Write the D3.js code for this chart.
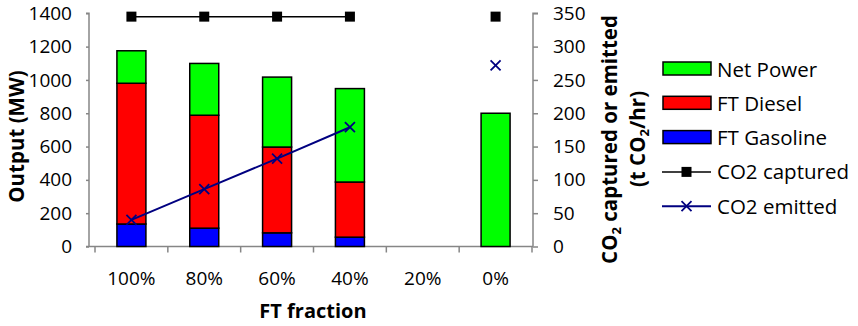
<!DOCTYPE html>
<html>
<head>
<meta charset="utf-8">
<script src="https://cdn.jsdelivr.net/npm/d3@7"></script>
<style>
  html, body { margin: 0; padding: 0; background: #fff; }
  svg text { font-family: "Open Sans", sans-serif; fill: #000; }
</style>
</head>
<body>
<svg id="chart" width="858" height="326"></svg>
<script>
const categories = ["100%", "80%", "60%", "40%", "20%", "0%"];
const ftGasoline = [135, 110, 82, 56, 0, 0];
const ftDiesel   = [845, 678, 515, 331, 0, 0];
const netPower   = [195, 311, 420, 561, 0, 800];
const co2Captured = [345, 345, 345, 345, null, 345];
const co2Emitted  = [40, 86, 132, 179, null, 272];
const leftTicks  = [0, 200, 400, 600, 800, 1000, 1200, 1400];
const rightTicks = [0, 50, 100, 150, 200, 250, 300, 350];

const svg = d3.select("#chart");
const axisColor = "#868686";

const x = d3.scaleBand().domain(categories).range([95, 532]);
const yL = d3.scaleLinear().domain([0, 1400]).range([246.5, 13.3]);
const yR = d3.scaleLinear().domain([0, 350]).range([246.5, 13.3]);

// Left axis
const leftAxis = d3.axisLeft(yL).tickValues(leftTicks).tickFormat(d3.format("d")).tickSize(3).tickPadding(14);
const gL = svg.append("g").attr("transform", "translate(89,0)").call(leftAxis);
gL.selectAll("path, line").attr("stroke", axisColor).attr("stroke-width", 1.5);
gL.selectAll("text").style("font-size", "19px").attr("fill", "#000");
gL.select(".domain").attr("d", `M-3,${yL(1400)}H0V${yL(0)}`);

// Right axis
const rightAxis = d3.axisRight(yR).tickValues(rightTicks).tickFormat(d3.format("d")).tickSize(5).tickPadding(15);
const gR = svg.append("g").attr("transform", "translate(533,0)").call(rightAxis);
gR.selectAll("path, line").attr("stroke", axisColor).attr("stroke-width", 1.5);
gR.selectAll("text").style("font-size", "19px").attr("fill", "#000");
gR.select(".domain").attr("d", `M5,${yR(350)}H0V${yR(0)}`);

// Bottom axis
const gB = svg.append("g").attr("transform", `translate(0,${yL(0)})`);
gB.append("line").attr("x1", 86).attr("x2", 533).attr("y1", 0).attr("y2", 0)
  .attr("stroke", axisColor).attr("stroke-width", 1.5);
const bounds = categories.map(c => x(c)).concat([x.range()[1]]);
gB.selectAll("line.tk").data(bounds).join("line").attr("class", "tk")
  .attr("x1", d => d).attr("x2", d => d).attr("y1", 0).attr("y2", 6)
  .attr("stroke", axisColor).attr("stroke-width", 1.5);
gB.selectAll("text.lbl").data(categories).join("text").attr("class", "lbl")
  .attr("x", d => x(d) + x.bandwidth() / 2).attr("y", 38)
  .attr("text-anchor", "middle").style("font-size", "19px").text(d => d);

// Stacked bars
const rows = categories.map((c, i) => ({ cat: c, gas: ftGasoline[i], diesel: ftDiesel[i], net: netPower[i] }));
const stack = d3.stack().keys(["gas", "diesel", "net"])(rows);
const colors = { gas: "#0000FF", diesel: "#FF0000", net: "#00FF00" };
const barW = 29;
stack.forEach(layer => {
  svg.append("g").selectAll("rect").data(layer.filter(d => d[1] - d[0] > 0)).join("rect")
    .attr("x", d => x(d.data.cat) + x.bandwidth() / 2 - barW / 2)
    .attr("width", barW)
    .attr("y", d => yL(d[1]))
    .attr("height", d => yL(d[0]) - yL(d[1]))
    .attr("fill", colors[layer.key])
    .attr("stroke", "#000").attr("stroke-width", 1.5);
});

const cx = c => x(c) + x.bandwidth() / 2;

// CO2 captured line
const capData = categories.map((c, i) => ({ c, v: co2Captured[i] }));
const line = d3.line().defined(d => d.v !== null).x(d => cx(d.c)).y(d => yR(d.v));
svg.append("path").datum(capData).attr("d", line).attr("fill", "none")
  .attr("stroke", "#000").attr("stroke-width", 1.5);
svg.append("g").selectAll("rect").data(capData.filter(d => d.v !== null)).join("rect")
  .attr("x", d => cx(d.c) - 5).attr("y", d => yR(d.v) - 5)
  .attr("width", 10).attr("height", 10).attr("fill", "#000");

// CO2 emitted line
const emData = categories.map((c, i) => ({ c, v: co2Emitted[i] }));
svg.append("path").datum(emData).attr("d", line).attr("fill", "none")
  .attr("stroke", "#000080").attr("stroke-width", 2);
const xm = 5;
svg.append("g").selectAll("path").data(emData.filter(d => d.v !== null)).join("path")
  .attr("d", d => { const px = cx(d.c), py = yR(d.v);
    return `M${px - xm},${py - xm}L${px + xm},${py + xm}M${px - xm},${py + xm}L${px + xm},${py - xm}`; })
  .attr("stroke", "#000080").attr("stroke-width", 1.8).attr("fill", "none");

// Axis titles
svg.append("text").attr("transform", "translate(24,136.5) rotate(-90)")
  .attr("text-anchor", "middle").style("font-size", "20.5px").style("font-weight", "bold")
  .text("Output (MW)");
svg.append("text").attr("x", 313).attr("y", 318).attr("text-anchor", "middle")
  .style("font-size", "20px").style("font-weight", "bold").text("FT fraction");

const t1 = svg.append("text").attr("transform", "translate(617,139.5) rotate(-90)")
  .attr("text-anchor", "middle").style("font-size", "20.5px").style("font-weight", "bold");
t1.append("tspan").text("CO");
t1.append("tspan").text("2").style("font-size", "13px").attr("dy", 4);
t1.append("tspan").text(" captured or emitted").attr("dy", -4);
const t2 = svg.append("text").attr("transform", "translate(645,139) rotate(-90)")
  .attr("text-anchor", "middle").style("font-size", "20.5px").style("font-weight", "bold");
t2.append("tspan").text("(t CO");
t2.append("tspan").text("2").style("font-size", "13px").attr("dy", 4);
t2.append("tspan").text("/hr)").attr("dy", -4);

// Legend
const legend = [
  { name: "Net Power", type: "rect", color: "#00FF00" },
  { name: "FT Diesel", type: "rect", color: "#FF0000" },
  { name: "FT Gasoline", type: "rect", color: "#0000FF" },
  { name: "CO2 captured", type: "sq", color: "#000" },
  { name: "CO2 emitted", type: "x", color: "#000080" }
];
const lg = svg.append("g");
legend.forEach((d, i) => {
  const yc = 69 + i * 34.3;
  const g = lg.append("g");
  if (d.type === "rect") {
    g.append("rect").attr("x", 663).attr("y", yc - 7).attr("width", 48).attr("height", 13)
      .attr("fill", d.color).attr("stroke", "#000").attr("stroke-width", 1.5);
  } else {
    g.append("line").attr("x1", 662).attr("x2", 711).attr("y1", yc).attr("y2", yc)
      .attr("stroke", d.color).attr("stroke-width", d.type === "sq" ? 1.5 : 2);
    if (d.type === "sq") {
      g.append("rect").attr("x", 686.5 - 5).attr("y", yc - 5).attr("width", 10).attr("height", 10).attr("fill", "#000");
    } else {
      g.append("path").attr("d", `M${686.5 - xm},${yc - xm}L${686.5 + xm},${yc + xm}M${686.5 - xm},${yc + xm}L${686.5 + xm},${yc - xm}`)
        .attr("stroke", d.color).attr("stroke-width", 1.8);
    }
  }
  g.append("text").attr("x", 717).attr("y", yc + 7.5).style("font-size", "20.5px").text(d.name);
});
</script>
</body>
</html>
